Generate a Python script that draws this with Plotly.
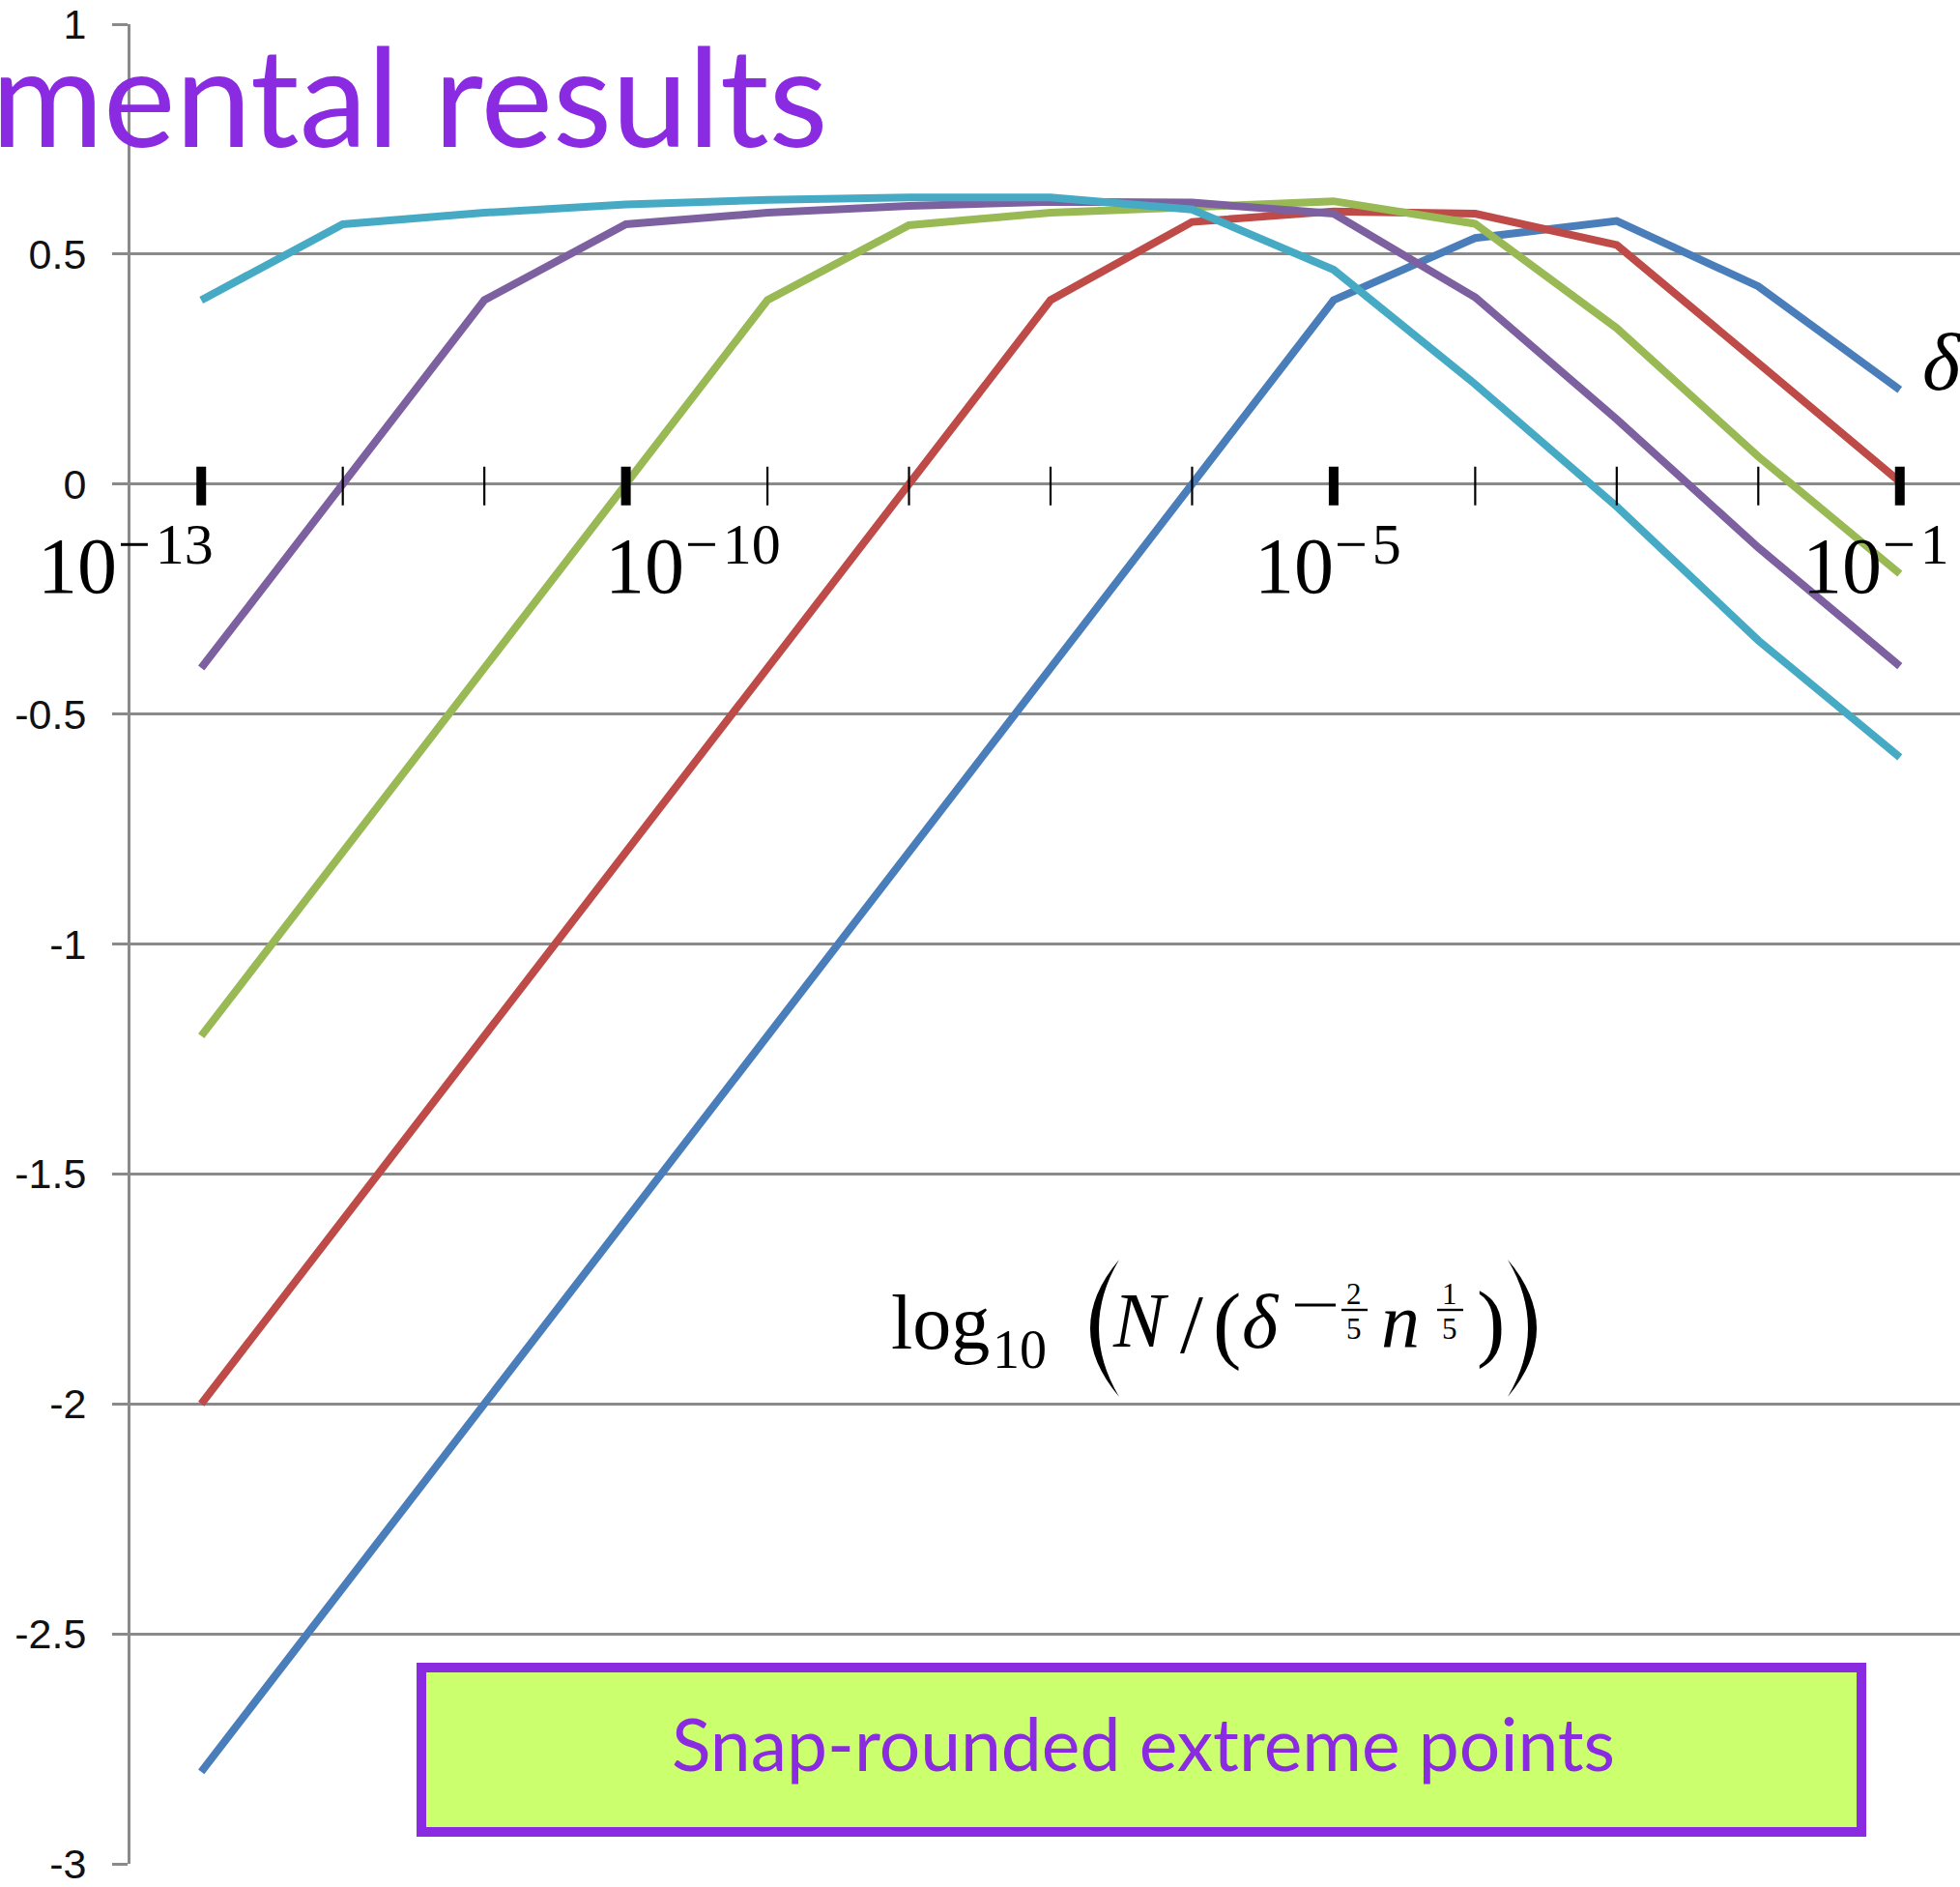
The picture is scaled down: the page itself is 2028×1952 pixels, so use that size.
import plotly.graph_objects as go

# ---- data -------------------------------------------------------------
# x positions: delta = 10^e, one point per decade
exponents = [-13, -12, -11, -10, -9, -8, -7, -6, -5, -4, -3, -2, -1]

series_names = ["Series1", "Series2", "Series3", "Series4", "Series5"]
series1 = [-2.8, -2.4, -2.0, -1.6, -1.2, -0.8, -0.4, 0.0, 0.40, 0.535, 0.572, 0.43, 0.205]
series2 = [-2.0, -1.6, -1.2, -0.8, -0.4, 0.0, 0.40, 0.57, 0.593, 0.588, 0.52, 0.263, 0.005]
series3 = [-1.2, -0.8, -0.4, 0.0, 0.40, 0.563, 0.59, 0.602, 0.615, 0.566, 0.339, 0.06, -0.195]
series4 = [-0.4, 0.0, 0.40, 0.565, 0.59, 0.605, 0.614, 0.612, 0.588, 0.406, 0.141, -0.138, -0.396]
series5 = [0.40, 0.565, 0.59, 0.608, 0.618, 0.623, 0.623, 0.597, 0.466, 0.217, -0.049, -0.34, -0.594]
series_colors = ["#4a7ebb", "#be4b48", "#98b954", "#7d60a0", "#46aac5"]

# y axis ticks
y_tickvals = [1, 0.5, 0, -0.5, -1, -1.5, -2, -2.5, -3]
y_ticktext = ["1", "0.5", "0", "-0.5", "-1", "-1.5", "-2", "-2.5", "-3"]

# decade axis drawn along y = 0
major_exps = [-13, -10, -5, -1]
major_text = ["\u2212\u200a13", "\u2212\u200a10", "\u2212\u200a5", "\u2212\u200a1"]
major_label_shift = [-170, -23, -83, -102]  # left edge of "10" relative to the tick

title_text = "mental results"
box_text = "Snap-rounded extreme points"

PURPLE = "#8a2be2"
SERIF = "Liberation Serif"

# ---- geometry helpers (pixel -> paper) ------------------------------------
W, H = 2028, 1952
L, R, T, B = 135, 2028, 25, 1928


def px(x):
    return (x - L) / (R - L)


def py(y):
    return (B - y) / (B - T)


def text_at(text, x, baseline, size, family=SERIF, color="black", xanchor="left",
            ratio=0.3375, xref="paper", xshift=0):
    return dict(
        text=text, showarrow=False, borderpad=0,
        x=px(x) if xref == "paper" else x, xref=xref, xshift=xshift,
        y=py(baseline - ratio * size), yref="paper",
        xanchor=xanchor, yanchor="middle",
        font=dict(family=family, size=size, color=color),
    )


def crescent(x_end, y_top, y_bot, x_outer, x_inner):
    # a parenthesis drawn as a filled crescent between two quadratic curves
    cy = (y_top + y_bot) / 2
    co = 2 * x_outer - x_end
    ci = 2 * x_inner - x_end
    return (f"M {px(x_end)},{py(y_top)} Q {px(co)},{py(cy)} {px(x_end)},{py(y_bot)} "
            f"Q {px(ci)},{py(cy)} {px(x_end)},{py(y_top)} Z")


# ---- figure ----------------------------------------------------------------
fig = go.Figure()
for name, vals, col in zip(series_names,
                           [series1, series2, series3, series4, series5],
                           series_colors):
    fig.add_trace(go.Scatter(x=exponents, y=vals, name=name, mode="lines",
                             line=dict(color=col, width=8), cliponaxis=False))

shapes = []
# tick marks across the y = 0 line
for e in exponents:
    bold = e in major_exps
    shapes.append(dict(type="line", xref="x", yref="y", x0=e, x1=e,
                       ysizemode="pixel", yanchor=0, y0=-22, y1=18,
                       line=dict(color="black", width=10 if bold else 2.2),
                       layer="above"))

annotations = []
for e, sup, dx in zip(major_exps, major_text, major_label_shift):
    annotations.append(text_at("10", e, 613, 82, xref="x", xshift=dx))
    annotations.append(text_at(sup, e, 583, 60, xref="x", xshift=dx + 83))

# delta label at the right end of the decade axis
annotations.append(text_at("<i>\u03b4</i>", 1988, 403, 84))

# formula: log10( N / (delta^{-2/5} n^{1/5}) )
annotations += [
    text_at("log", 921, 1395, 80),
    text_at("10", 1026, 1415, 56),
    text_at("<i>N</i>", 1150, 1393, 80),
    text_at("/", 1220, 1399, 86),
    text_at("(", 1254, 1399, 88),
    text_at("<i>\u03b4</i>", 1284, 1394, 80),
    text_at("2", 1401, 1349, 31, xanchor="center"),
    text_at("5", 1401, 1385, 31, xanchor="center"),
    text_at("<i>n</i>", 1428, 1393, 80),
    text_at("1", 1500, 1349, 31, xanchor="center"),
    text_at("5", 1500, 1385, 31, xanchor="center"),
    text_at(")", 1527, 1397, 88),
]
shapes += [
    dict(type="path", xref="paper", yref="paper", layer="above",
         path=crescent(1158, 1303, 1445, 1128, 1137),
         fillcolor="black", line=dict(width=0)),
    dict(type="path", xref="paper", yref="paper", layer="above",
         path=crescent(1560, 1303, 1445, 1590, 1581),
         fillcolor="black", line=dict(width=0)),
    dict(type="line", xref="paper", yref="paper", layer="above",
         x0=px(1340), x1=px(1382), y0=py(1350), y1=py(1350),
         line=dict(color="black", width=3.2)),
    dict(type="line", xref="paper", yref="paper", layer="above",
         x0=px(1388), x1=px(1415), y0=py(1355), y1=py(1355),
         line=dict(color="black", width=2.4)),
    dict(type="line", xref="paper", yref="paper", layer="above",
         x0=px(1487), x1=px(1514), y0=py(1355), y1=py(1355),
         line=dict(color="black", width=2.4)),
]

# title fragment at the top
annotations.append(text_at(title_text, 858, 152, 141, family="Lato", color=PURPLE,
                           xanchor="right", ratio=0.387))

# highlighted caption box
shapes.append(dict(type="rect", xref="paper", yref="paper", layer="above",
                   x0=px(436), x1=px(1926), y0=py(1725), y1=py(1895),
                   fillcolor="#ccff6e", line=dict(color=PURPLE, width=10)))
annotations.append(text_at(box_text, 1183, 1832, 75, family="Lato", color=PURPLE,
                           xanchor="center", ratio=0.387))

fig.update_layout(
    width=W, height=H,
    margin=dict(l=L, r=W - R, t=T, b=H - B, pad=0),
    paper_bgcolor="white", plot_bgcolor="white",
    showlegend=False,
    shapes=shapes, annotations=annotations,
    xaxis=dict(range=[-13.5, -0.575], visible=False, fixedrange=True),
    yaxis=dict(range=[-3, 1], tickmode="array", tickvals=y_tickvals,
               ticktext=y_ticktext, showgrid=True, gridcolor="#8a8a8a",
               gridwidth=2.5, zeroline=False, showline=True, linecolor="#8a8a8a",
               linewidth=3, ticks="outside", ticklen=16, tickwidth=2.5,
               tickcolor="#8a8a8a", ticklabelstandoff=18,
               ticklabeloverflow="allow",
               tickfont=dict(family="Liberation Sans", size=43, color="#111111"),
               fixedrange=True),
)

fig.write_html("out.html")
